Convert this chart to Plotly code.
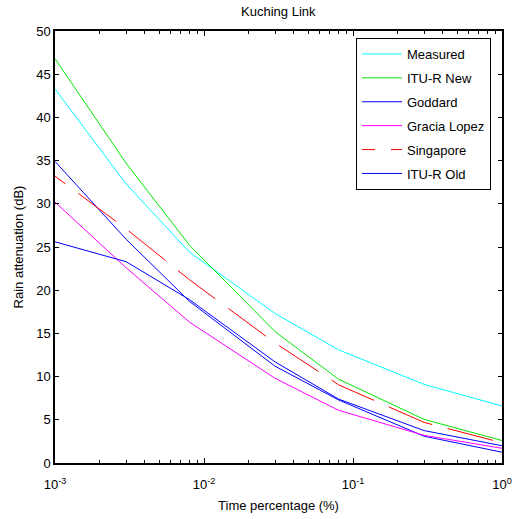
import plotly.graph_objects as go

# Time percentage (%)
time_pct = [0.001, 0.003, 0.008, 0.03, 0.08, 0.3, 1.0]

measured = [43.3, 32.3, 24.4, 17.3, 13.1, 9.1, 6.6]
itu_r_new = [46.8, 34.7, 25.2, 15.2, 9.7, 5.05, 2.6]
goddard = [34.9, 25.9, 18.7, 11.2, 7.3, 3.1, 1.25]
gracia_lopez = [30.2, 22.6, 16.3, 9.8, 6.1, 3.2, 1.7]
singapore = [33.2, 27.1, 21.2, 13.9, 9.05, 4.7, 2.35]
itu_r_old = [25.6, 23.3, 18.9, 11.7, 7.4, 3.75, 2.0]

series_names = ["Measured", "ITU-R New", "Goddard", "Gracia Lopez", "Singapore", "ITU-R Old"]
series_values = [measured, itu_r_new, goddard, gracia_lopez, singapore, itu_r_old]
series_colors = ["#00ffff", "#00e600", "#0000ff", "#ff00ff", "#ff0000", "#0000ff"]
series_dash = ["solid", "solid", "solid", "solid",
               "13px,16px,47px,16px,47px,16px,47px,16px,47px,16px,47px,16px,47px,16px,47px,16px,47px,16px,47px,16px,47px,16px",
               "solid"]

x_tick_vals = [0.001, 0.01, 0.1, 1]
x_tick_text = ["10<sup>-3</sup>", "10<sup>-2</sup>", "10<sup>-1</sup>", "10<sup>0</sup>"]
x_minor_vals = [m * d for d in [0.001, 0.01, 0.1] for m in range(2, 10)]

FONT = "Liberation Sans, Arial, sans-serif"

fig = go.Figure()
for i, (name, vals, col, dash) in enumerate(zip(series_names, series_values, series_colors, series_dash)):
    fig.add_trace(go.Scatter(
        x=time_pct, y=vals, mode="lines", name=name,
        line=dict(color=col, width=1, dash=dash),
        legendgroup=f"g{i}",
    ))

fig.update_layout(
    width=514, height=519,
    margin=dict(l=55, r=12, t=31, b=56, autoexpand=False),
    paper_bgcolor="white", plot_bgcolor="white",
    font=dict(family=FONT, size=13, color="black"),
    title=dict(text="Kuching Link", x=0.5415, xanchor="center", y=1 - 11.5 / 519, yanchor="middle",
               yref="container", font=dict(size=13)),
    showlegend=True,
    legend=dict(
        x=(356 - 55) / 447, y=(463 - 38) / 432, xanchor="left", yanchor="top",
        bordercolor="black", borderwidth=1, bgcolor="white",
        font=dict(size=13), tracegroupgap=4, traceorder="grouped", itemwidth=40,
    ),
    xaxis=dict(
        type="log", range=[-3, 0], automargin=False,
        tickmode="array", tickvals=x_tick_vals, ticktext=x_tick_text,
        ticks="inside", ticklen=5, tickcolor="black", tickwidth=1,
        ticklabelstandoff=9, ticklabeloverflow="allow",
        minor=dict(tickmode="array", tickvals=x_minor_vals, ticks="inside", ticklen=3,
                   tickcolor="black", showgrid=False),
        showline=True, linecolor="black", linewidth=1.5, mirror="allticks",
        showgrid=False, zeroline=False,
        title=dict(text="Time percentage (%)", standoff=10, font=dict(size=13)),
        tickfont=dict(size=13),
    ),
    yaxis=dict(
        range=[0, 50], tickmode="linear", tick0=0, dtick=5, automargin=False,
        ticks="inside", ticklen=4, tickcolor="black", tickwidth=1,
        showline=True, linecolor="black", linewidth=1.5, mirror="allticks",
        showgrid=False, zeroline=False,
        title=dict(text="Rain attenuation (dB)", standoff=10, font=dict(size=13)),
        tickfont=dict(size=13),
    ),
)

fig.write_html("out.html", config={"displayModeBar": False},
               post_script="document.body.style.margin='0';")
